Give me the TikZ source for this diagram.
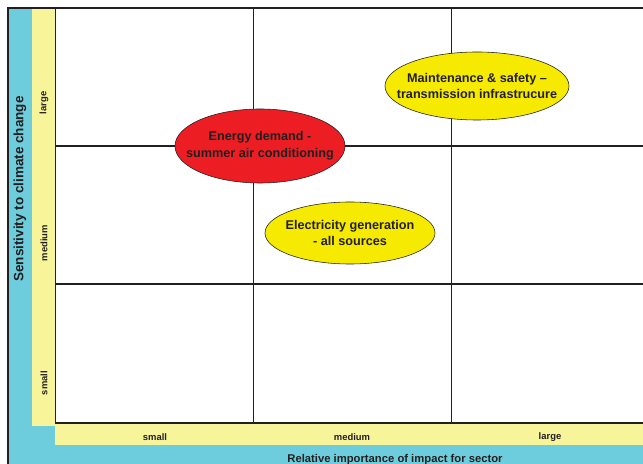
\documentclass[tikz,border=0pt]{standalone}
\usepackage{fontspec}
\setmainfont{Liberation Sans}
\usetikzlibrary{shapes.geometric}
\definecolor{cielbleu}{RGB}{110,205,221}
\definecolor{paille}{RGB}{248,244,154}
\definecolor{rouge}{RGB}{236,30,36}
\definecolor{jaune}{RGB}{245,234,0}
\definecolor{encre}{RGB}{35,31,32}
\tikzset{
    bulle/.style={ellipse,draw=encre,line width=0.4pt,inner sep=0pt},
    libelle/.style={text=encre,align=center,font=\bfseries\fontsize{9}{12}\selectfont},
    graduation/.style={text=encre,font=\bfseries\fontsize{6.7}{7}\selectfont},
    titre/.style={text=encre,font=\bfseries\fontsize{8}{9}\selectfont}
}
\begin{document}
\begin{tikzpicture}[x=0.025cm,y=-0.025cm]
    \useasboundingbox (0,0) rectangle (643,464);
    \fill[white] (0,0) rectangle (643,464);
    \fill[cielbleu] (8,8) rectangle (643,464);
    \fill[paille] (32,8) rectangle (55,426);
    \fill[paille] (55,424) rectangle (643,445);
    \fill[white] (55,8) rectangle (643,423);
    \draw[encre,line width=0.9pt] (8,464) -- (8,8) -- (643,8);
    \draw[encre,line width=0.7pt] (55,8) -- (55,423);
    \draw[encre,line width=1.1pt] (55,423) -- (643,423);
    \foreach \x in {253,451} {
        \draw[encre,line width=0.5pt] (\x,8) -- (\x,423);
    }
    \foreach \y in {146,284} {
        \draw[encre,line width=0.9pt] (55,\y) -- (643,\y);
    }
    \node[bulle,fill=rouge,minimum width=4.25cm,minimum height=1.85cm,
        label={[libelle]center:{Energy demand -\\summer air conditioning}}] (demande) at (260,146) {};
    \node[bulle,fill=jaune,minimum width=4.6cm,minimum height=1.7cm,
        label={[libelle]center:{Maintenance \& safety --\\transmission infrastrucure}}] (entretien) at (477,86) {};
    \node[bulle,fill=jaune,minimum width=4.25cm,minimum height=1.55cm,
        label={[libelle]center:{Electricity generation\\- all sources}}] (production) at (350,233) {};
    \foreach \n/\t/\y in {grand/large/103,moyen/medium/243,petit/small/383} {
        \node[graduation,rotate=90] (v\n) at (44,\y) {\t};
    }
    \foreach \n/\t/\x in {petit/small/155,moyen/medium/352,grand/large/550} {
        \node[graduation] (h\n) at (\x,437) {\t};
    }
    \node[titre,rotate=90,font=\bfseries\fontsize{9.6}{10}\selectfont] (sensibilite) at (20,189)
        {Sensitivity to climate change};
    \node[titre] (importance) at (395,460) {Relative importance of impact for sector};
\end{tikzpicture}
\end{document}
